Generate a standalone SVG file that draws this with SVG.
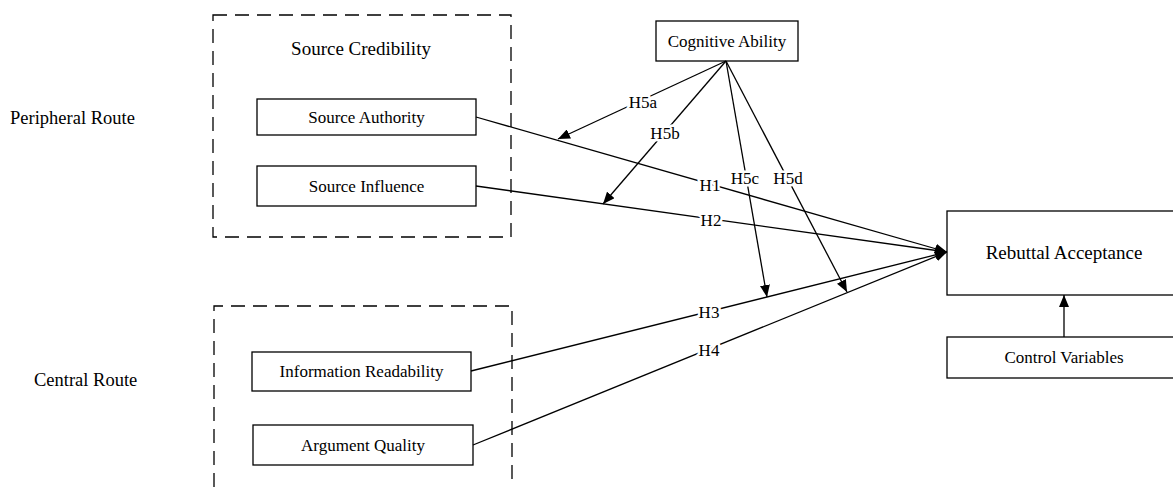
<svg xmlns="http://www.w3.org/2000/svg" width="1173" height="487" viewBox="0 0 1173 487">
<style>
text{font-family:"Liberation Serif","Times New Roman",serif;fill:#000}
.box{fill:#fff;stroke:#000;stroke-width:1.3}
.dash{fill:none;stroke:#000;stroke-width:1.3;stroke-dasharray:14 8}
.t17{font-size:17px;text-anchor:middle}
.t19{font-size:19px;text-anchor:middle}
.route{font-size:18.5px}
.lbl{font-size:17px;text-anchor:middle;paint-order:stroke;stroke:#fff;stroke-width:5px;stroke-linejoin:round}
.edge{fill:none;stroke:#000;stroke-width:1.3;marker-end:url(#arr)}
</style>
<defs>
<marker id="arr" viewBox="0 0 12 10" refX="12" refY="5" markerWidth="12" markerHeight="10" markerUnits="userSpaceOnUse" orient="auto">
<path d="M0,0 L12,5 L0,10 z" fill="#000"/>
</marker>
</defs>
<rect width="1173" height="487" fill="#fff"/>

<g id="route-labels">
<text class="route" x="10" y="124">Peripheral Route</text>
<text class="route" x="34" y="386">Central Route</text>
</g>

<g id="source-credibility">
<rect class="dash" x="213" y="15" width="298" height="222"/>
<text class="t19" x="361" y="55">Source Credibility</text>
</g>
<g id="central-group">
<path class="dash" d="M214,487 L214,306 L512,306 L512,487"/>
</g>

<g id="source-authority">
<rect class="box" x="257" y="99" width="219" height="36"/>
<text class="t17" x="366.5" y="123">Source Authority</text>
</g>
<g id="source-influence">
<rect class="box" x="257" y="166" width="219" height="40"/>
<text class="t17" x="366.5" y="192">Source Influence</text>
</g>
<g id="information-readability">
<rect class="box" x="252" y="352" width="219" height="39"/>
<text class="t17" x="361.5" y="377">Information Readability</text>
</g>
<g id="argument-quality">
<rect class="box" x="253" y="425" width="220" height="40"/>
<text class="t17" x="363" y="451">Argument Quality</text>
</g>
<g id="cognitive-ability">
<rect class="box" x="656" y="21" width="142" height="40"/>
<text class="t17" x="727" y="47">Cognitive Ability</text>
</g>
<g id="rebuttal-acceptance">
<rect class="box" x="947" y="211" width="228" height="84"/>
<text class="t19" x="1064" y="259">Rebuttal Acceptance</text>
</g>
<g id="control-variables">
<rect class="box" x="947" y="337" width="228" height="41"/>
<text class="t17" x="1064" y="363">Control Variables</text>
</g>

<g id="connectors">
<line class="edge" x1="476" y1="117" x2="947" y2="252"/>
<line class="edge" x1="476" y1="186" x2="947" y2="252"/>
<line class="edge" x1="471" y1="371" x2="947" y2="252"/>
<line class="edge" x1="473" y1="445" x2="947" y2="252"/>
<line class="edge" x1="726" y1="61" x2="558" y2="139"/>
<line class="edge" x1="726" y1="61" x2="603" y2="204"/>
<line class="edge" x1="726" y1="61" x2="767" y2="297"/>
<line class="edge" x1="726" y1="61" x2="847" y2="292"/>
<line class="edge" x1="1064" y1="337" x2="1064" y2="295"/>
<text class="lbl" x="710" y="191">H1</text>
<text class="lbl" x="711" y="226">H2</text>
<text class="lbl" x="709" y="318">H3</text>
<text class="lbl" x="709" y="356">H4</text>
<text class="lbl" x="643" y="108">H5a</text>
<text class="lbl" x="665" y="139">H5b</text>
<text class="lbl" x="745" y="184">H5c</text>
<text class="lbl" x="788" y="184">H5d</text>
</g>
</svg>
